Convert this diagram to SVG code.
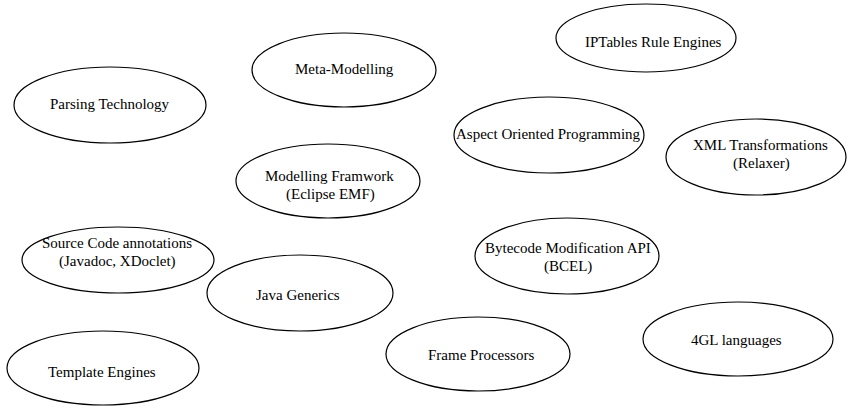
<svg xmlns="http://www.w3.org/2000/svg" width="847" height="408" viewBox="0 0 847 408">
<rect width="847" height="408" fill="#fff"/>
<g id="connectors"/>
<g fill="#fff" stroke="#000" stroke-width="1.2">
<g id="parsing"><ellipse cx="110" cy="105" rx="96" ry="38"/></g>
<g id="meta"><ellipse cx="344" cy="70" rx="92" ry="37"/></g>
<g id="iptables"><ellipse cx="646" cy="38" rx="90" ry="34"/></g>
<g id="aop"><ellipse cx="549" cy="135" rx="95" ry="38"/></g>
<g id="xml"><ellipse cx="756" cy="157" rx="90" ry="38"/></g>
<g id="emf"><ellipse cx="328" cy="181" rx="92" ry="37"/></g>
<g id="source"><ellipse cx="118" cy="260" rx="96" ry="33"/></g>
<g id="generics"><ellipse cx="300" cy="293" rx="93" ry="38"/></g>
<g id="bcel"><ellipse cx="567" cy="256" rx="92" ry="38"/></g>
<g id="fourgl"><ellipse cx="738" cy="339" rx="95" ry="37"/></g>
<g id="frame"><ellipse cx="478" cy="354" rx="92" ry="37"/></g>
<g id="template"><ellipse cx="103" cy="368" rx="96" ry="37"/></g>
</g>
<g id="labels">
<text x="50" y="109" font-family="Times New Roman" font-size="15">Parsing Technology</text>
<text x="295" y="74" font-family="Times New Roman" font-size="15">Meta-Modelling</text>
<text x="585" y="47" font-family="Times New Roman" font-size="15">IPTables Rule Engines</text>
<text x="456" y="139" font-family="Times New Roman" font-size="15">Aspect Oriented Programming</text>
<text x="693" y="150" font-family="Times New Roman" font-size="15">XML Transformations</text>
<text x="733" y="168" font-family="Times New Roman" font-size="15">(Relaxer)</text>
<text x="265" y="181" font-family="Times New Roman" font-size="15">Modelling Framwork</text>
<text x="286" y="199" font-family="Times New Roman" font-size="15">(Eclipse EMF)</text>
<text x="42" y="248" font-family="Times New Roman" font-size="15">Source Code annotations</text>
<text x="59" y="266" font-family="Times New Roman" font-size="15">(Javadoc, XDoclet)</text>
<text x="256" y="300" font-family="Times New Roman" font-size="15">Java Generics</text>
<text x="485" y="253" font-family="Times New Roman" font-size="15">Bytecode Modification API</text>
<text x="544" y="271" font-family="Times New Roman" font-size="15">(BCEL)</text>
<text x="691" y="345" font-family="Times New Roman" font-size="15">4GL languages</text>
<text x="428" y="360" font-family="Times New Roman" font-size="15">Frame Processors</text>
<text x="48" y="377" font-family="Times New Roman" font-size="15">Template Engines</text>
</g>
</svg>
